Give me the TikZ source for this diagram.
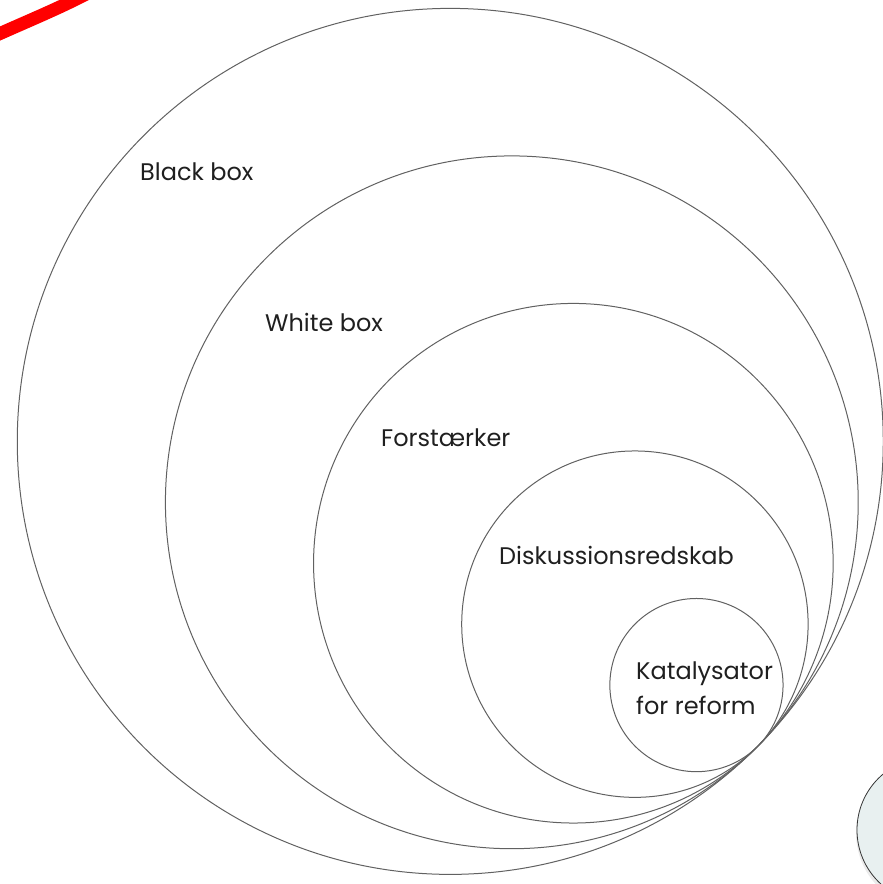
\documentclass[tikz,border=0pt]{standalone}
\usepackage{fontspec}
\setmainfont{Poppins}
\usetikzlibrary{calc}
\begin{document}
\begin{tikzpicture}[x=1pt,y=-1pt,
  ring/.style={draw=black!62, line width=1pt},
  lbl/.style={anchor=west, font=\fontsize{24}{35}\selectfont, text=black!88, inner sep=0pt}]
\useasboundingbox (0,0) rectangle (883,884);
\clip (0,0) rectangle (883,884);
% background decorations
\draw[red, line width=13pt, line cap=round] (-10,38) .. controls (30,20) and (60,8) .. (90,-8);
\fill[black!8] (932,833) circle (76);
\draw[black!80, fill={rgb,255:red,232;green,240;blue,240}, line width=0.8pt] (930,830) circle (73);
% tangent point and circles
\coordinate (T) at (758,746);
\foreach \k/\nm in {5/c1,4/c2,3/c3,2/c4,1/c5}{
  \pgfmathsetmacro{\r}{86.6*\k}
  \node[ring, circle, minimum size=2*\r pt, inner sep=0pt] (\nm) at ($(T)+(-0.7107*\r,-0.7035*\r)$) {};
}
\node[lbl] (t1) at (140,172) {Black box};
\node[lbl] (t2) at (265,322) {White box};
\node[lbl] (t3) at (381,438) {Forstærker};
\node[lbl] (t4) at (499,555) {Diskussionsredskab};
\node[lbl, align=left] (t5) at (636,688) {Katalysator\\for reform};
\end{tikzpicture}
\end{document}
